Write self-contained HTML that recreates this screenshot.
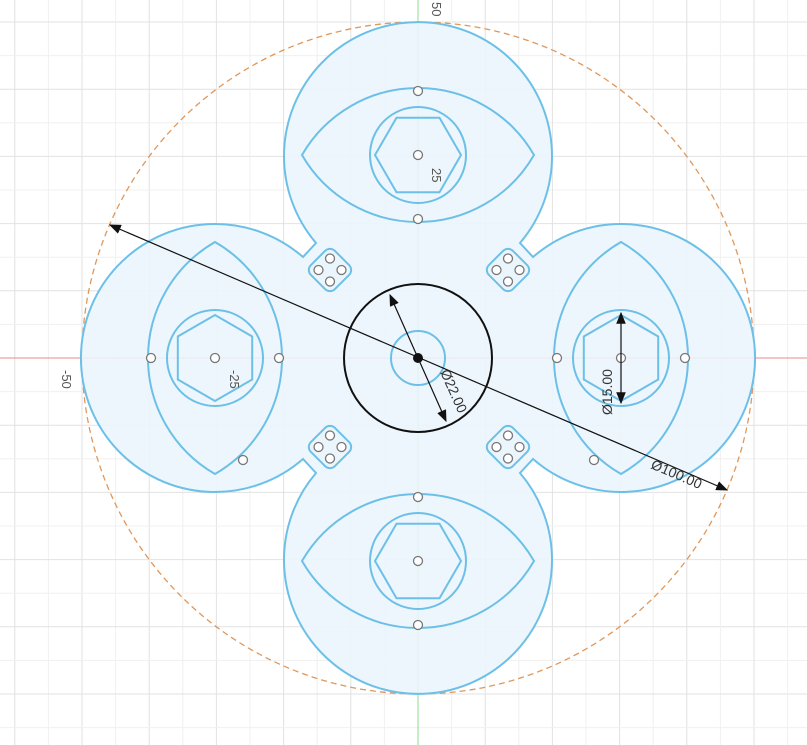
<!DOCTYPE html>
<html><head><meta charset="utf-8"><style>
html,body{margin:0;padding:0;background:#fff;width:807px;height:745px;overflow:hidden}
svg{display:block;font-family:"Liberation Sans",sans-serif;overflow:hidden}
</style></head><body>
<svg id="s" width="807" height="745" viewBox="0 0 807 745">
<g id="grid"></g>
<line x1="0" y1="358" x2="807" y2="358" stroke="#e88" stroke-width="1"/>
<line x1="418" y1="0" x2="418" y2="745" stroke="#8d8" stroke-width="1"/>
<circle cx="418" cy="358" r="336" fill="none" stroke="#e0975a" stroke-width="1.3" stroke-dasharray="6,4"/>
<path id="body" fill="#ebf5fc" fill-opacity="0.9" stroke="#6cc0e8" stroke-width="2"/>
<g id="feat" fill="none" stroke="#6cc0e8" stroke-width="2"></g>
<g id="pts"></g>
<circle cx="418" cy="358" r="74" fill="none" stroke="#111" stroke-width="2"/>
<circle cx="418" cy="358" r="27" fill="none" stroke="#6cc0e8" stroke-width="2"/>
<circle cx="418" cy="358" r="5" fill="#111"/>
<defs><marker id="ar" markerWidth="10" markerHeight="8" refX="9" refY="4" orient="auto-start-reverse"><path d="M0,0L10,4L0,8z" fill="#111"/></marker></defs>
<line x1="110" y1="225" x2="727" y2="490" stroke="#111" stroke-width="1.2" marker-start="url(#ar)" marker-end="url(#ar)"/>
<text x="650" y="468" font-size="14" fill="#333" transform="rotate(23.2 650 468)">Ø100.00</text>
<line x1="390" y1="295" x2="446" y2="421" stroke="#111" stroke-width="1.2" marker-start="url(#ar)" marker-end="url(#ar)"/>
<text x="440" y="372" font-size="14" fill="#333" transform="rotate(66 440 372)">Ø22.00</text>
<line x1="621" y1="313" x2="621" y2="403" stroke="#111" stroke-width="1.2" marker-start="url(#ar)" marker-end="url(#ar)"/>
<text x="612" y="415" font-size="14" fill="#333" transform="rotate(-90 612 415)">Ø15.00</text>
<text x="432" y="2" font-size="13" fill="#555" transform="rotate(90 432 2)">50</text>
<text x="432" y="168" font-size="13" fill="#555" transform="rotate(90 432 168)">25</text>
<text x="62" y="370" font-size="13" fill="#555" transform="rotate(90 62 370)">-50</text>
<text x="230" y="370" font-size="13" fill="#555" transform="rotate(90 230 370)">-25</text>
</svg>
<script>
const NS="http://www.w3.org/2000/svg";
const C=[418,358], R=134, D=203;
const lobes=[[0,-1],[1,0],[0,1],[-1,0]];
const pads=[[508,270],[330,270],[330,447],[508,447]];
const extraPts=[[243,460],[594,460]];
function mk(p,t,a){const e=document.createElementNS(NS,t);for(const k in a)e.setAttribute(k,a[k]);p.appendChild(e);return e;}
const grid=document.getElementById('grid');
for(let i=-12;i<=12;i++){
 const x=C[0]+i*33.6,y=C[1]+i*33.6,c=i%2?'#f0f0f0':'#e2e2e2';
 let l=mk(grid,'line',{x1:x,y1:0,x2:x,y2:745,stroke:c});
 
 
 l=mk(grid,'line',{x1:0,y1:y,x2:807,y2:y,stroke:c});
 
 
}
let d='M520,243 A134,134 0 1 0 316,243 L303,257 A134,134 0 1 0 303,459 L316,473 A134,134 0 1 0 520,473 L533,459 A134,134 0 1 0 533,257 Z';
document.getElementById('body').setAttribute('d',d);
const feat=document.getElementById('feat'),pts=document.getElementById('pts');
lobes.forEach(([lx,ly],i)=>{
 const cx=C[0]+lx*D, cy=C[1]+ly*D, vert=lx!==0;
 const L=116, H=67, rr=(L*L+H*H)/(2*H);
 let ed= vert?`M${cx},${cy-L} A${rr},${rr} 0 0 1 ${cx},${cy+L} A${rr},${rr} 0 0 1 ${cx},${cy-L}Z`
  :`M${cx-L},${cy} A${rr},${rr} 0 0 1 ${cx+L},${cy} A${rr},${rr} 0 0 1 ${cx-L},${cy}Z`;
 let e=mk(feat,'path',{d:ed});
 
 
 e=mk(feat,'circle',{cx,cy,r:48});
 
 
 let hp=[];for(let k=0;k<6;k++){const a=(k*60+(vert?90:0))*Math.PI/180;hp.push((cx+43*Math.cos(a)).toFixed(1)+','+(cy+43*Math.sin(a)).toFixed(1));}
 e=mk(feat,'polygon',{points:hp.join(' ')});
 
 
 const ps=vert?[[cx-64,cy],[cx,cy],[cx+64,cy]]:[[cx,cy-64],[cx,cy],[cx,cy+64]];
 ps.forEach(p=>{const c=mk(pts,'circle',{cx:p[0],cy:p[1],r:4.5,fill:'#fff',stroke:'#777','stroke-width':1.3});
  
  });
});
extraPts.forEach(p=>{const c=mk(pts,'circle',{cx:p[0],cy:p[1],r:4.5,fill:'#fff',stroke:'#777','stroke-width':1.3});
 
 });
pads.forEach(([x,y])=>{
 const g=mk(feat,'g',{transform:`translate(${x},${y}) rotate(45)`});
 
 
 mk(g,'rect',{x:-17,y:-17,width:34,height:34,rx:7,fill:'#ebf5fc'});
 [[0,-1],[1,0],[0,1],[-1,0]].forEach(([a,b])=>{
  const c=mk(pts,'circle',{cx:x+a*11.5,cy:y+b*11.5,r:4.5,fill:'#fff',stroke:'#777','stroke-width':1.3});
  
  
 });
});
</script>
</body></html>
